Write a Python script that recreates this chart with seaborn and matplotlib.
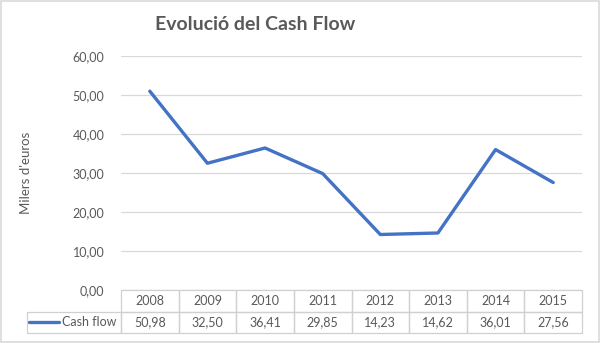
import matplotlib
matplotlib.use("Agg")
import matplotlib.pyplot as plt
import matplotlib.transforms as mtransforms
from matplotlib.patches import Rectangle
from matplotlib.lines import Line2D
import seaborn as sns
import pandas as pd
import numpy as np

years = [2008, 2009, 2010, 2011, 2012, 2013, 2014, 2015]
cash_flow = [50.98, 32.50, 36.41, 29.85, 14.23, 14.62, 36.01, 27.56]
series_name = "Cash flow"
title = "Evolució del Cash Flow"
ylabel = "Milers d'euros"
yticks = [0, 10, 20, 30, 40, 50, 60]

sns.set_theme(style="white")
plt.rcParams["font.family"] = ["Lato", "DejaVu Sans"]

TXT = "#595959"
GRID = "#D9D9D9"
BLUE = "#4472C4"

W, H = 600, 343
fig = plt.figure(figsize=(6.0, 3.43), dpi=100)
fig.patch.set_facecolor("white")

left, right, top, bottom = 121, 582, 56, 290
ax = fig.add_axes([left / W, 1 - bottom / H, (right - left) / W, (bottom - top) / H])

df = pd.DataFrame({"year": years, "value": cash_flow})
sns.lineplot(data=df, x="year", y="value", ax=ax, color=BLUE, linewidth=2.4,
             solid_joinstyle="round", solid_capstyle="round")

ax.set_xlim(years[0] - 0.5, years[-1] + 0.5)
ax.set_ylim(yticks[0], yticks[-1])
ax.set_yticks(yticks)
ax.set_yticklabels([f"{v:.2f}".replace(".", ",") for v in yticks], color=TXT, fontsize=9)
ax.tick_params(axis="y", length=0, pad=12)
ax.set_xticks([])
ax.set_xlabel("")
ax.set_ylabel(ylabel, color=TXT, fontsize=9.5, labelpad=14)
ax.yaxis.set_label_coords(-(left - 32) / (right - left), 0.5)
ax.grid(axis="y", color=GRID, linewidth=0.9)
ax.set_axisbelow(True)
for s in ax.spines.values():
    s.set_visible(False)

# Data table below plot
row_h = 21.5 / (bottom - top)  # in axes fraction
trans = mtransforms.blended_transform_factory(ax.transData, ax.transAxes)
label_w = (left - 27) / (right - left) * len(years)
x0 = years[0] - 0.5
border = "#D0D0D0"
for i, (yr, v) in enumerate(zip(years, cash_flow)):
    xl = yr - 0.5
    for r, txt in enumerate([str(yr), f"{v:.2f}".replace(".", ",")]):
        yb = -(r + 1) * row_h
        ax.add_patch(Rectangle((xl, yb), 1, row_h, transform=trans, fill=False,
                               edgecolor=border, linewidth=0.9, clip_on=False))
        ax.text(yr, yb + row_h / 2, txt, transform=trans, ha="center", va="center",
                color=TXT, fontsize=9, clip_on=False)
# row label cell
ax.add_patch(Rectangle((x0 - label_w, -2 * row_h), label_w, row_h, transform=trans,
                       fill=False, edgecolor=border, linewidth=0.9, clip_on=False))
ax.add_line(Line2D([x0 - label_w + 0.04, x0 - label_w + 0.56], [-1.5 * row_h] * 2,
                   transform=trans, color=BLUE, linewidth=2.4, clip_on=False))
ax.text(x0 - 0.07, -1.5 * row_h, series_name, transform=trans, ha="right", va="center",
        color=TXT, fontsize=9, clip_on=False)

fig.text(255 / W, 1 - 25 / H, title, ha="center", va="center", fontsize=14,
         fontweight="bold", color=TXT)

# figure border
fig.add_artist(Rectangle((0.002, 0.003), 0.996, 0.994, transform=fig.transFigure,
                         fill=False, edgecolor=GRID, linewidth=1.2))

fig.savefig("out.png", dpi=100, facecolor="white")
